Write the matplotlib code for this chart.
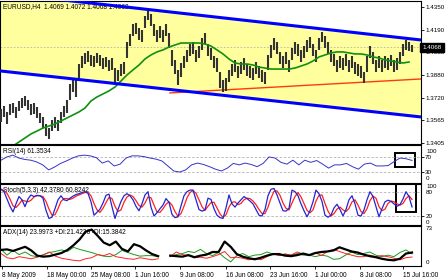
import numpy as np
import matplotlib
matplotlib.use('Agg')
from matplotlib import pyplot as plt
from matplotlib import font_manager
from matplotlib.patches import Rectangle
import matplotlib.transforms as mtransforms

names = {f.name for f in font_manager.fontManager.ttflist}
if 'Liberation Sans Narrow' in names:
    FONT, FS, FS_AX = 'Liberation Sans Narrow', 5.4, 5.2
else:
    FONT, FS, FS_AX = 'Liberation Sans', 4.7, 4.5
FS_DATE = FS
plt.rcParams['font.family'] = [FONT, 'DejaVu Sans']

# ---- data (EURUSD H4, 8 May - 15 Jul 2009) ----
highs = [1.3640, 1.3661, 1.3620, 1.3675, 1.3682, 1.3654, 1.3696, 1.3717, 1.3731, 1.3703,
         1.3675, 1.3682, 1.3654, 1.3613, 1.3585, 1.3536, 1.3508, 1.3564, 1.3585, 1.3564,
         1.3620, 1.3661, 1.3703, 1.3814, 1.3842, 1.3842, 1.3953, 1.4009, 1.4030, 1.4044,
         1.4016, 1.4009, 1.4030, 1.4016, 1.3995, 1.4002, 1.3981, 1.3995, 1.3925, 1.3912,
         1.3953, 1.3967, 1.4106, 1.4162, 1.4231, 1.4238, 1.4203, 1.4190, 1.4287, 1.4328,
         1.4301, 1.4231, 1.4190, 1.4217, 1.4190, 1.4231, 1.4169, 1.4051, 1.3981, 1.3912,
         1.3960, 1.4009, 1.4051, 1.4092, 1.4106, 1.4051, 1.4078, 1.4134, 1.4169, 1.4092,
         1.4064, 1.4009, 1.3995, 1.3898, 1.3842, 1.3856, 1.3912, 1.3953, 1.3981, 1.3939,
         1.3967, 1.3995, 1.3953, 1.3939, 1.3925, 1.3967, 1.3939, 1.3912, 1.3898, 1.4016,
         1.4085, 1.4134, 1.4106, 1.4037, 1.4009, 1.4037, 1.3981, 1.4064, 1.4106, 1.4092,
         1.4051, 1.4078, 1.4120, 1.4141, 1.4092, 1.4051, 1.4134, 1.4176, 1.4148, 1.4106,
         1.4051, 1.4023, 1.3981, 1.4009, 1.3995, 1.4023, 1.3981, 1.4009, 1.3967, 1.3953,
         1.3939, 1.3898, 1.4009, 1.4078, 1.4037, 1.3981, 1.4009, 1.3981, 1.4009, 1.3995,
         1.4016, 1.3981, 1.3995, 1.4037, 1.4092, 1.4120, 1.4106, 1.4085]
lows = [1.3550, 1.3585, 1.3536, 1.3599, 1.3613, 1.3578, 1.3627, 1.3647, 1.3661, 1.3634,
        1.3599, 1.3606, 1.3578, 1.3543, 1.3508, 1.3453, 1.3432, 1.3487, 1.3508, 1.3487,
        1.3543, 1.3585, 1.3613, 1.3703, 1.3759, 1.3724, 1.3856, 1.3925, 1.3953, 1.3967,
        1.3939, 1.3932, 1.3960, 1.3939, 1.3918, 1.3932, 1.3905, 1.3912, 1.3828, 1.3835,
        1.3870, 1.3884, 1.3995, 1.4078, 1.4148, 1.4162, 1.4120, 1.4106, 1.4203, 1.4259,
        1.4217, 1.4148, 1.4106, 1.4134, 1.4106, 1.4148, 1.4064, 1.3939, 1.3884, 1.3807,
        1.3863, 1.3925, 1.3967, 1.4009, 1.4023, 1.3967, 1.3995, 1.4051, 1.4092, 1.4009,
        1.3981, 1.3925, 1.3898, 1.3786, 1.3759, 1.3766, 1.3828, 1.3870, 1.3898, 1.3856,
        1.3884, 1.3912, 1.3870, 1.3856, 1.3842, 1.3884, 1.3856, 1.3828, 1.3814, 1.3912,
        1.3995, 1.4051, 1.4023, 1.3953, 1.3925, 1.3953, 1.3898, 1.3981, 1.4023, 1.4009,
        1.3967, 1.3995, 1.4037, 1.4064, 1.4009, 1.3967, 1.4051, 1.4106, 1.4064, 1.4023,
        1.3967, 1.3939, 1.3898, 1.3925, 1.3912, 1.3939, 1.3898, 1.3925, 1.3884, 1.3870,
        1.3856, 1.3821, 1.3898, 1.3995, 1.3953, 1.3898, 1.3925, 1.3898, 1.3925, 1.3912,
        1.3939, 1.3898, 1.3912, 1.3953, 1.4009, 1.4051, 1.4044, 1.4037]

ma = [1.3342, 1.3362, 1.3383, 1.3411, 1.3439, 1.3467, 1.3487, 1.3508, 1.3522, 1.3536,
      1.3557, 1.3578, 1.3599, 1.3620, 1.3647, 1.3696, 1.3724, 1.3745, 1.3766, 1.3793,
      1.3835, 1.3877, 1.3912, 1.3946, 1.3988, 1.4016, 1.4037, 1.4051, 1.4071, 1.4085,
      1.4099, 1.4099, 1.4099, 1.4099, 1.4092, 1.4078, 1.4051, 1.4023, 1.3988, 1.3960,
      1.3953, 1.3953, 1.3946, 1.3932, 1.3925, 1.3918, 1.3918, 1.3918, 1.3918, 1.3925,
      1.3939, 1.3953, 1.3974, 1.4002, 1.4016, 1.4030, 1.4037, 1.4037, 1.4030, 1.4023,
      1.4023, 1.4016, 1.4002, 1.3995, 1.3981, 1.3974, 1.3967, 1.3960, 1.3967]

channel_upper = [1.4447, 1.4120]
channel_lower = [1.3905, 1.3585]
trend_line = [1.3752, 1.3849]
last_price = 1.4068
price_levels = [1.4350, 1.4190, 1.4035, 1.3880, 1.3720, 1.3565, 1.3405]

rsi = [62, 71, 76, 68, 64, 62, 57, 49, 35, 43,
       53, 60, 68, 74, 76, 74, 69, 54, 60, 46,
       51, 68, 74, 74, 72, 68, 65, 60, 46, 32,
       29, 35, 49, 54, 50, 44, 37, 32, 40, 53,
       49, 54, 50, 44, 53, 71, 68, 56, 51, 62,
       49, 62, 56, 61, 51, 40, 49, 49, 53, 44,
       37, 51, 54, 46, 46, 47, 58, 68, 66, 61.35]

stoch_k = [86, 80, 62, 44, 30, 50, 68, 60, 43, 62,
           72, 68, 71, 70, 64, 34, 14, 17, 38, 60,
           70, 60, 58, 64, 69, 73, 75, 78, 80, 76,
           55, 22, 29, 37, 52, 71, 74, 43, 14, 36,
           56, 70, 75, 70, 60, 44, 33, 50, 72, 80,
           42, 20, 28, 38, 47, 63, 54, 24, 16, 18,
           45, 70, 80, 84, 84, 60, 36, 32, 35, 64,
           61, 38, 22, 16, 14, 40, 72, 50, 42, 52,
           60, 68, 63, 57, 50, 36, 22, 20, 36, 70,
           86, 88, 72, 52, 33, 32, 39, 84, 80, 70,
           50, 33, 18, 33, 55, 84, 75, 56, 22, 17,
           22, 40, 49, 36, 20, 36, 60, 70, 50, 22,
           20, 35, 60, 80, 68, 43, 18, 38, 55, 59,
           56, 50, 44, 48, 62, 80, 68, 42.38]
stoch_d = [86, 83, 76, 62, 45, 41, 49, 59, 57, 55,
           59, 67, 70, 70, 68, 56, 37, 22, 23, 38,
           56, 63, 63, 61, 64, 69, 72, 75, 78, 78,
           70, 51, 35, 29, 39, 53, 66, 63, 44, 31,
           35, 54, 67, 72, 68, 58, 46, 42, 52, 67,
           65, 47, 30, 29, 38, 49, 55, 47, 31, 19,
           26, 44, 65, 78, 83, 76, 60, 43, 34, 44,
           53, 54, 40, 25, 17, 23, 42, 54, 55, 48,
           51, 60, 64, 63, 57, 48, 36, 26, 26, 42,
           64, 81, 82, 71, 52, 39, 35, 52, 68, 78,
           67, 51, 34, 28, 35, 57, 71, 72, 51, 32,
           20, 26, 37, 42, 35, 31, 39, 55, 60, 47,
           31, 26, 38, 58, 69, 64, 43, 33, 37, 51,
           57, 55, 50, 47, 51, 63, 70, 60.82]

nan = np.nan
adx = [29, 30, 27, 31, 35, 28, 18, 16, 17, 20,
       23, 29, 38, 49, 64, 68, 56, 43, 38, 45,
       31, 26, 40, 36, 28, 21, 17, nan, 18, 17,
       16, 19, 15, 18, 20, 25, 25, 45, 35, 21,
       16, 13, 11, 14, 18, 21, 21, 18, 17, 19,
       22, 19, 23, 25, 26, 28, 34, 30, 26, 24,
       20, 17, 15, 12, 10, 9, 12, 22, 24.0]
plus_di = [30, 19, 28, 20, 25, 18, 16, 20, 24, 26,
           29, 26, 34, 30, 27, 24, 20, 17, 16, 20,
           28, 24, 20, 17, 18, 18, 16, nan, 17, 20,
           22, 26, 24, 30, 22, 18, 24, 14, 6, 18,
           22, 16, 19, 20, 25, 21, 19, 21, 19, 22,
           19, 19, 16, 19, 17, 11, 12, 19, 25, 20,
           22, 25, 19, 16, 19, 16, 24, 29, 21.42]
minus_di = [22, 14, 12, 16, 14, 12, 15, 19, 25, 17,
            13, 11, 9, 8, 12, 14, 20, 18, 22, 16,
            14, 12, 11, 14, 12, 10, 12, nan, 16, 25,
            20, 18, 14, 15, 13, 16, 20, 26, 14, 15,
            13, 10, 13, 10, 16, 22, 18, 21, 19, 25,
            21, 19, 24, 18, 26, 30, 26, 22, 19, 16,
            16, 19, 16, 18, 16, 13, 10, 14, 15.38]

date_labels = ['8 May 2009', '18 May 00:00', '25 May 08:00', '1 Jun 16:00', '9 Jun 08:00',
               '16 Jun 08:00', '23 Jun 16:00', '1 Jul 00:00', '8 Jul 08:00', '15 Jul 16:00']
date_bars = [0.3, 15.3, 30, 44.7, 59.7, 75, 89.7, 104.7, 119.7, 134]

# ---- layout ----
W, H = 448, 280
fig = plt.figure(figsize=(W / 100, H / 100), dpi=100)
fig.patch.set_facecolor('white')


def panel(top, bottom):
    return fig.add_axes([0, 1 - bottom / H, 421 / W, (bottom - top) / H])


ax_main = panel(1, 144)
ax_rsi = panel(145, 183)
ax_sto = panel(184, 225)
ax_adx = panel(226, 266)

n = len(highs)
bars = np.arange(n)
XL = (-0.33, 140.0)

for ax in (ax_main, ax_rsi, ax_sto, ax_adx):
    ax.set_xlim(*XL)
    ax.yaxis.tick_right()
    ax.tick_params(axis='y', labelsize=FS_AX, length=2, pad=1, width=0.6)
    ax.tick_params(axis='x', bottom=False, labelbottom=False)
    for s in ax.spines.values():
        s.set_linewidth(0.8)
        s.set_color('black')


def side_label(ax, value, text):
    tr = mtransforms.blended_transform_factory(ax.transAxes, ax.transData)
    ax.text(1.012, value, text, transform=tr, fontsize=FS_AX, va='center', ha='left')


# main price panel
ax_main.set_ylim(1.3397, 1.4391)
cx = np.array(XL)
ax_main.fill_between(cx, channel_lower, channel_upper, color='#ffff9e', zorder=0.5, lw=0)
ax_main.plot(cx, channel_upper, color='#0000ff', lw=2.2, zorder=4, solid_capstyle='butt')
ax_main.plot(cx, channel_lower, color='#0000ff', lw=2.2, zorder=4, solid_capstyle='butt')
ax_main.plot([56.3, XL[1]], trend_line, color='#ff3a10', lw=1.0, zorder=2.5)
ax_main.axhline(last_price, color='#b4b4b4', lw=0.6, ls=(0, (2, 2)), zorder=1)
ax_main.vlines(bars, lows, highs, color='#333333', lw=1.5, zorder=3)
ax_main.plot(np.linspace(0, bars[-1] - 1, len(ma)), ma, color='#109010', lw=1.2, zorder=3.5)
ax_main.set_yticks(price_levels)
ax_main.set_yticklabels(['%.4f' % v for v in price_levels])
ax_main.text(0.008, 0.958, 'EURUSD,H4  1.4069 1.4072 1.4068 1.4068', transform=ax_main.transAxes,
             fontsize=FS, va='center', ha='left', zorder=1)
tr = mtransforms.blended_transform_factory(ax_main.transAxes, ax_main.transData)
ax_main.text(1.004, last_price, '1.4068', transform=tr, fontsize=FS_AX, color='white',
             va='center', ha='left', clip_on=False, zorder=10,
             bbox=dict(boxstyle='square,pad=0.35', fc='black', ec='black'))

# RSI
ax_rsi.set_ylim(-1.4, 104.2)
for lv in (70, 30):
    ax_rsi.axhline(lv, color='#b4b4b4', lw=0.6, ls=(0, (3, 2)))
ax_rsi.plot(np.linspace(0, bars[-1], len(rsi)), rsi, color='#3434c8', lw=0.7)
ax_rsi.set_yticks([70, 30])
ax_rsi.set_yticklabels(['70', '30'])
side_label(ax_rsi, 87.5, '100')
side_label(ax_rsi, 11, '0')
ax_rsi.text(0.008, 0.82, 'RSI(14) 61.3534', transform=ax_rsi.transAxes, fontsize=FS,
            va='center', ha='left')
ax_rsi.add_patch(Rectangle((0.938, 0.42), 0.048, 0.37, transform=ax_rsi.transAxes,
                           fill=False, ec='black', lw=1.4, clip_on=False))

# Stochastic
ax_sto.set_ylim(-2.2, 99)
for lv in (80, 20):
    ax_sto.axhline(lv, color='#b4b4b4', lw=0.6, ls=(0, (3, 2)))
ax_sto.plot(bars, stoch_d, color='#ff2020', lw=0.9)
ax_sto.plot(bars, stoch_k, color='#2424d0', lw=0.9)
ax_sto.set_yticks([20])
ax_sto.set_yticklabels(['20'])
side_label(ax_sto, 93, '100')
side_label(ax_sto, 77, '80')
side_label(ax_sto, 5, '0')
ax_sto.text(0.008, 0.85, 'Stoch(5,3,3) 42.3780 60.8242', transform=ax_sto.transAxes,
            fontsize=FS, va='center', ha='left', zorder=1)
ax_sto.add_patch(Rectangle((0.941, 0.317), 0.047, 0.69, transform=ax_sto.transAxes,
                           fill=False, ec='black', lw=1.4, clip_on=False))

# ADX
ax_adx.set_ylim(-1.9, 74.9)
xa = np.linspace(0, bars[-1], len(adx))
ax_adx.plot(xa, plus_di, color='#1a9a1a', lw=0.7)
ax_adx.plot(xa, minus_di, color='#ff2020', lw=0.7)
ax_adx.plot(xa, adx, color='black', lw=1.6)
ax_adx.set_yticks([])
side_label(ax_adx, 70, '73')
side_label(ax_adx, 4, '0')
ax_adx.text(0.008, 0.825, 'ADX(14) 23.9973 +DI:21.4236 -DI:15.3842', transform=ax_adx.transAxes,
            fontsize=FS, va='center', ha='left', zorder=1)
ax_adx.tick_params(axis='x', bottom=True, labelbottom=True, length=2.5, width=0.6,
                   pad=1.5, labelsize=FS_DATE)
ax_adx.set_xticks(date_bars)
ax_adx.set_xticklabels(date_labels, ha='left')

fig.savefig('out.png', dpi=100)
